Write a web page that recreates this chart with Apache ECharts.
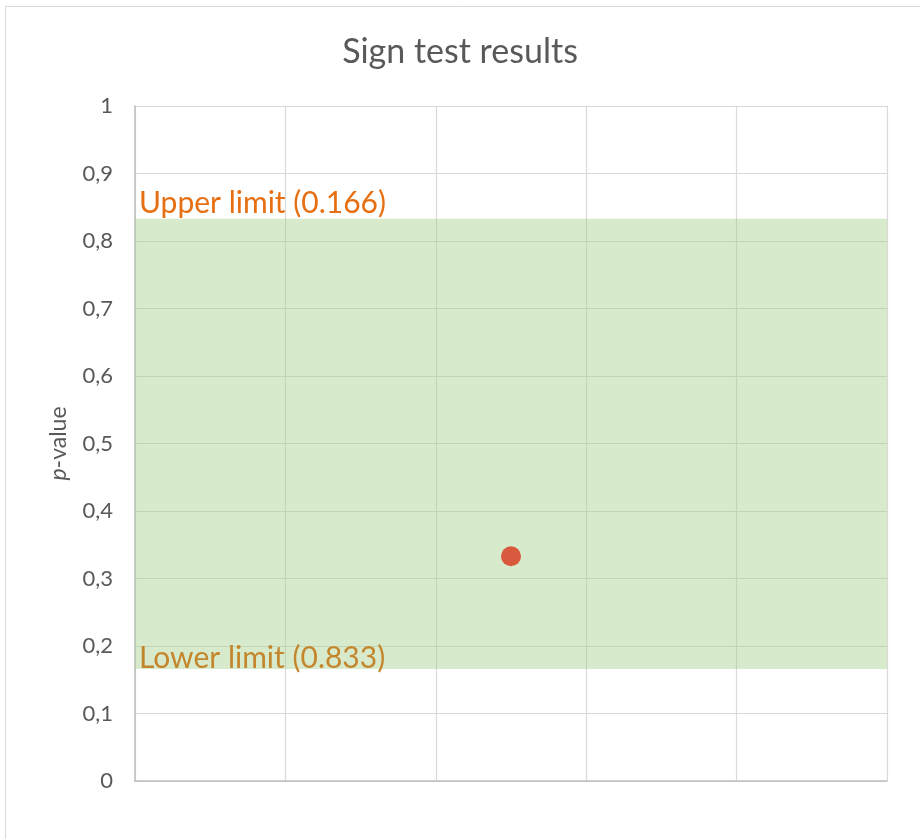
<!DOCTYPE html>
<html>
<head>
<meta charset="utf-8">
<script src="https://cdn.jsdelivr.net/npm/echarts@6/dist/echarts.min.js"></script>
<style>
  html, body { margin: 0; padding: 0; background: #ffffff; }
  #chart { width: 920px; height: 839px; }
</style>
</head>
<body>
<div id="chart"></div>
<script>
// Sign test outcome: one observed p-value against the acceptance band
const chartTitle = 'Sign test results';
const yTicks = [0, 0.1, 0.2, 0.3, 0.4, 0.5, 0.6, 0.7, 0.8, 0.9, 1];
const xRange = [0, 5];
const observedPoint = [[2.5, 0.333]];
const bandLimits = [0.166, 0.833];
const limitLabels = ['Lower limit (0.833)', 'Upper limit (0.166)'];

const chart = echarts.init(document.getElementById('chart'), null, { renderer: 'canvas' });
const font = 'Lato, "Open Sans", sans-serif';

chart.setOption({
  animation: false,
  backgroundColor: '#ffffff',
  title: {
    text: chartTitle,
    left: 'center',
    top: 30,
    textStyle: { fontFamily: font, fontSize: 34, fontWeight: 'normal', color: '#595959' }
  },
  graphic: [{
    type: 'rect',
    shape: { x: 5.5, y: 6.5, width: 940, height: 860 },
    style: { fill: 'none', stroke: '#d9d9d9', lineWidth: 1 },
    silent: true
  }],
  grid: { left: 135, right: 33, top: 106, bottom: 58, containLabel: false },
  xAxis: {
    type: 'value',
    min: xRange[0],
    max: xRange[1],
    interval: 1,
    axisLabel: { show: false },
    axisTick: { show: false },
    axisLine: { show: true, lineStyle: { color: '#bfbfbf', width: 1.5 } },
    splitLine: { show: true, lineStyle: { color: '#d9d9d9', width: 1.2 } }
  },
  yAxis: {
    type: 'value',
    min: yTicks[0],
    max: yTicks[yTicks.length - 1],
    interval: 0.1,
    name: '{i|p}-value',
    nameLocation: 'middle',
    nameGap: 65,
    nameRotate: 90,
    nameTextStyle: {
      fontFamily: font, fontSize: 23, color: '#595959',
      rich: { i: { fontFamily: font, fontSize: 23, fontStyle: 'italic', color: '#595959' } }
    },
    axisLabel: {
      fontFamily: font, fontSize: 22, color: '#595959', margin: 22,
      formatter: v => String(Math.round(v * 10) / 10).replace('.', ',')
    },
    axisTick: { show: false },
    axisLine: { show: true, lineStyle: { color: '#bfbfbf', width: 1.5 } },
    splitLine: { show: true, lineStyle: { color: '#d9d9d9', width: 1.2 } }
  },
  series: [{
    type: 'scatter',
    data: observedPoint,
    symbol: 'circle',
    symbolSize: 20,
    itemStyle: { color: '#d8341a' },
    z: 5,
    markArea: {
      silent: true,
      itemStyle: { color: 'rgba(169, 209, 142, 0.45)' },
      data: [[{ yAxis: bandLimits[0] }, { yAxis: bandLimits[1] }]]
    },
    markLine: {
      silent: true,
      symbol: 'none',
      lineStyle: { color: 'rgba(0,0,0,0)', width: 0 },
      data: [
        {
          yAxis: bandLimits[0],
          label: {
            show: true,
            formatter: limitLabels[0], position: 'insideStartTop', distance: [4, -7],
            fontFamily: font, fontSize: 30, color: '#c4862c'
          }
        },
        {
          yAxis: bandLimits[1],
          label: {
            show: true,
            formatter: limitLabels[1], position: 'insideStartTop', distance: [4, 2],
            fontFamily: font, fontSize: 30, color: '#e66f12'
          }
        }
      ]
    }
  }]
});
</script>
</body>
</html>
